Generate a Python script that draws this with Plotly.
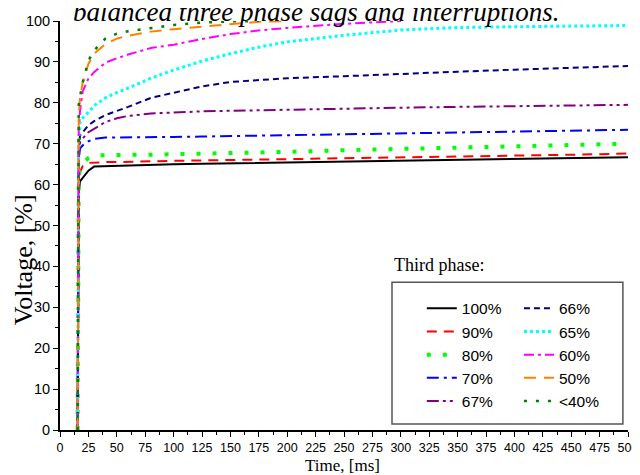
import plotly.graph_objects as go

# ---- data ----
time_ms = [15.5, 16.5, 17.6, 20, 25, 30, 40, 50, 60, 80, 100, 125, 150, 175, 200, 250, 300, 350, 400, 450, 500]

v_100 = [0, 58.0, 60.8, 61.6, 63.4, 64.4, 64.5, 64.6, 64.7, 64.85, 65.0, 65.1, 65.2, 65.3, 65.4, 65.6, 65.8, 65.95, 66.2, 66.45, 66.7]
v_90 = [0, 60.0, 63.1, 64.5, 65.3, 65.4, 65.5, 65.5, 65.6, 65.7, 65.8, 65.9, 66.0, 66.1, 66.2, 66.4, 66.6, 66.8, 67.0, 67.3, 67.6]
v_80 = [0, 62.0, 64.0, 65.3, 66.5, 67.1, 67.2, 67.3, 67.3, 67.3, 67.4, 67.5, 67.7, 67.9, 68.0, 68.4, 68.7, 69.0, 69.3, 69.6, 70.0]
v_70 = [0, 66.0, 68.8, 69.6, 70.6, 71.2, 71.5, 71.55, 71.6, 71.6, 71.65, 71.75, 71.85, 71.95, 72.1, 72.4, 72.6, 72.8, 73.0, 73.2, 73.4]
v_67 = [0, 67.0, 70.4, 71.3, 72.8, 73.7, 75.3, 76.2, 76.8, 77.4, 77.7, 77.9, 78.05, 78.2, 78.35, 78.6, 78.8, 79.0, 79.2, 79.35, 79.5]
v_66 = [0, 68.0, 72.0, 72.9, 74.5, 75.5, 77.0, 78.0, 79.0, 81.2, 82.4, 84.0, 85.1, 85.6, 86.0, 86.5, 87.1, 87.6, 88.1, 88.6, 89.0]
v_65 = [0, 71.0, 75.3, 76.3, 77.7, 79.3, 81.2, 82.5, 83.6, 86.0, 88.0, 90.2, 92.0, 93.6, 94.9, 96.5, 97.8, 98.4, 98.6, 98.8, 98.9]
v_60 = [0, 73.0, 78.0, 82.8, 85.9, 87.5, 89.8, 90.9, 91.8, 93.4, 94.2, 95.6, 96.8, 97.7, 98.3, 99.3, 100.0, None, None, None, None]
v_50 = [0, 76.9, 81.0, 85.0, 89.5, 92.0, 94.4, 95.7, 96.4, 97.4, 98.0, 98.6, 99.3, 99.8, 100.0, None, None, None, None, None, None]
v_40 = [0, 79.5, 81.5, 85.0, 90.3, 92.8, 95.7, 96.9, 97.5, 98.3, 99.0, 99.6, 99.9, 100.0, None, None, None, None, None, None, None]

series_names = ["100%", "90%", "80%", "70%", "67%", "66%", "65%", "60%", "50%", "<40%"]
series_values = [v_100, v_90, v_80, v_70, v_67, v_66, v_65, v_60, v_50, v_40]

x_ticks = list(range(0, 501, 25))
y_ticks = list(range(0, 101, 10))

# ---- styles ----
styles = [
    dict(color="#000000", width=2.0, dash="solid"),
    dict(color="#FF0000", width=2.0, dash="10px,7px"),
    dict(color="#00FF00", width=4.0, dash="4px,12px"),
    dict(color="#0000FF", width=2.0, dash="12px,5px,3px,5px"),
    dict(color="#800080", width=2.0, dash="12px,4px,3px,4px,3px,4px"),
    dict(color="#000080", width=2.0, dash="6px,4px"),
    dict(color="#00FFFF", width=3.0, dash="3px,3px"),
    dict(color="#FF00FF", width=2.0, dash="10px,4px,3px,4px"),
    dict(color="#FF8000", width=2.0, dash="12px,8px"),
    dict(color="#008000", width=2.5, dash="3px,9px"),
]
legends = ["legend"] * 5 + ["legend2"] * 5

fig = go.Figure()
for name, vals, st, lg in zip(series_names, series_values, styles, legends):
    fig.add_trace(go.Scatter(
        x=time_ms, y=vals, mode="lines", name=name, legend=lg,
        line=dict(color=st["color"], width=st["width"], dash=st["dash"]),
        connectgaps=False,
    ))

tick_font_x = dict(family="Liberation Sans, Arial", size=12.5, color="black")
tick_font_y = dict(family="Liberation Sans, Arial", size=14.5, color="black")
serif = "Liberation Serif, Times New Roman"
leg_font = dict(family="Liberation Sans, Arial", size=15.5, color="black")

# the page body has an 8px margin, so the figure is 8px smaller and margins compensate
fig.update_layout(
    width=632, height=467,
    margin=dict(l=52, r=12, t=12.5, b=45),
    paper_bgcolor="white", plot_bgcolor="white",
    showlegend=True,
    xaxis=dict(
        range=[0, 500], tickvals=x_ticks, ticktext=[str(v) for v in x_ticks],
        ticks="outside", ticklen=5, tickwidth=1, tickcolor="black",
        minor=dict(ticks="outside", ticklen=3, dtick=12.5, tick0=0, tickcolor="black"),
        showline=True, linecolor="black", linewidth=2, showgrid=False, zeroline=False,
        tickfont=tick_font_x, automargin=False,
    ),
    yaxis=dict(
        range=[0, 100], tickvals=y_ticks, ticktext=[str(v) for v in y_ticks],
        ticks="outside", ticklen=5, tickwidth=1, tickcolor="black",
        minor=dict(ticks="outside", ticklen=3, dtick=5, tick0=0, tickcolor="black"),
        showline=True, linecolor="black", linewidth=2, showgrid=False, zeroline=False,
        tickfont=tick_font_y, automargin=False,
    ),
    xaxis2=dict(
        range=[0, 500], overlaying="x", anchor="y", side="top", matches="x",
        tickvals=x_ticks, showticklabels=False, ticks="inside", ticklen=5, tickcolor="black",
        minor=dict(ticks="inside", ticklen=3, dtick=12.5, tick0=0, tickcolor="black"),
        showline=True, linecolor="#555555", linewidth=2, showgrid=False, zeroline=False,
        automargin=False,
    ),
    yaxis2=dict(
        range=[0, 100], overlaying="y", anchor="x", side="right", matches="y",
        tickvals=y_ticks, showticklabels=False, ticks="inside", ticklen=5, tickcolor="black",
        minor=dict(ticks="inside", ticklen=3, dtick=5, tick0=0, tickcolor="black"),
        showline=True, linecolor="#555555", linewidth=2, showgrid=False, zeroline=False,
        automargin=False,
    ),
    legend=dict(
        x=0.637, y=0.338, xanchor="left", yanchor="top",
        bgcolor="rgba(0,0,0,0)", borderwidth=0, font=leg_font, tracegroupgap=0,
    ),
    legend2=dict(
        x=0.808, y=0.338, xanchor="left", yanchor="top",
        bgcolor="rgba(0,0,0,0)", borderwidth=0, font=leg_font, tracegroupgap=0,
    ),
    shapes=[dict(
        type="rect", xref="paper", yref="paper",
        x0=0.5845, x1=0.991, y0=0.0147, y1=0.361,
        line=dict(color="#555555", width=1.5), fillcolor="rgba(0,0,0,0)",
    )],
    annotations=[
        dict(text="Third phase:", xref="paper", yref="paper", x=0.5845, y=0.403,
             xanchor="left", yanchor="middle", showarrow=False,
             font=dict(family=serif, size=18, color="black")),
        dict(text="Voltage, [%]", xref="paper", yref="paper", x=0, y=0.415,
             xanchor="center", yanchor="middle", xshift=-37, textangle=-90, showarrow=False,
             font=dict(family=serif, size=26, color="black")),
        dict(text="Time, [ms]", xref="paper", yref="paper", x=0.498, y=0,
             xanchor="center", yanchor="top", yshift=-24, showarrow=False,
             font=dict(family=serif, size=17, color="black")),
        dict(text="balanced three phase sags and interruptions.", xref="paper", yref="paper",
             x=0.451, y=1, xanchor="center", yanchor="bottom", yshift=-8, showarrow=False,
             font=dict(family=serif, size=27, color="black", style="italic")),
    ],
)

fig.write_html("out.html")
